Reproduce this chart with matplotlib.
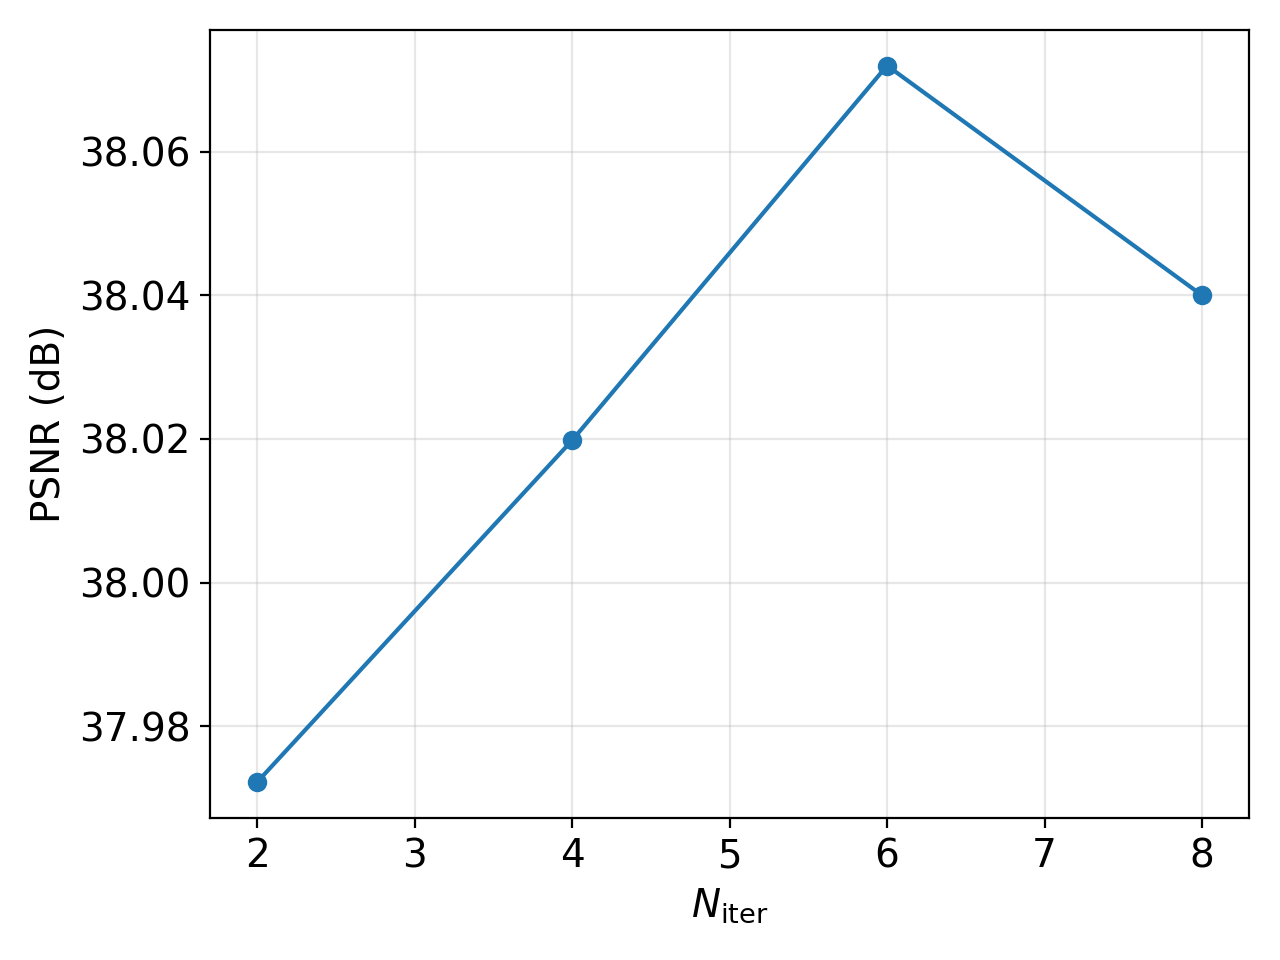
import matplotlib.pyplot as plt

n_iter = [2, 4, 6, 8]
psnr = [37.9722, 38.0198, 38.0720, 38.0400]

plt.rcParams["font.size"] = 14

fig, ax = plt.subplots(figsize=(6.4, 4.8))

ax.plot(n_iter, psnr, marker="o", color="#1f77b4", linewidth=1.5, markersize=6)
ax.set_xlabel(r"$N_{\mathrm{iter}}$")
ax.set_ylabel("PSNR (dB)")
ax.grid(True, alpha=0.3)

fig.subplots_adjust(left=0.164, right=0.976, top=0.969, bottom=0.148)
plt.savefig("out.png", dpi=200)
plt.close()
